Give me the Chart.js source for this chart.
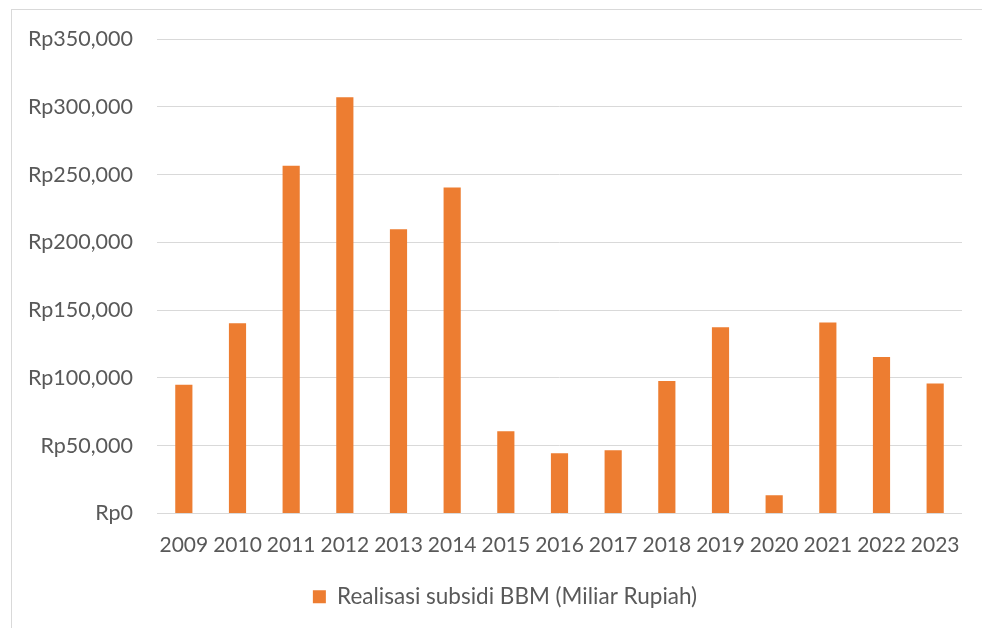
<!DOCTYPE html>
<html>
<head>
<meta charset="utf-8">
<script src="https://cdn.jsdelivr.net/npm/chart.js@4.4.1/dist/chart.umd.min.js"></script>
<style>
  html, body { margin: 0; padding: 0; background: #fff; overflow: hidden; }
  #frame { position: absolute; left: 11px; top: 9px; width: 1000px; height: 700px;
           border-left: 1px solid #d9d9d9; border-top: 1px solid #d9d9d9; }
  #chart { position: absolute; left: 0; top: 0; }
</style>
</head>
<body>
<div id="frame"></div>
<canvas id="chart" width="982" height="628"></canvas>
<script>
const years = ['2009', '2010', '2011', '2012', '2013', '2014', '2015', '2016',
  '2017', '2018', '2019', '2020', '2021', '2022', '2023'];
const subsidi = [94900, 140400, 256500, 307000, 209600, 240500, 60700, 44400,
  46700, 97800, 137400, 13500, 140900, 115400, 95800];
const seriesLabel = 'Realisasi subsidi BBM (Miliar Rupiah)';

const fontFamily = 'Lato, "Noto Sans", sans-serif';
const textColor = '#595959';
const gridColor = '#d9d9d9';
const barColor = '#ed7d31';

function formatRp(v) {
  return 'Rp' + v.toLocaleString('en-US');
}

// the legend in the original sits a bit right of the canvas centre
const legendShift = {
  id: 'legendShift',
  afterLayout(chart) {
    chart.legend.left += 24;
    chart.legend.right += 24;
  }
};

const ctx = document.getElementById('chart').getContext('2d');

new Chart(ctx, {
  type: 'bar',
  data: {
    labels: years,
    datasets: [{
      label: seriesLabel,
      data: subsidi,
      backgroundColor: barColor,
      borderWidth: 0,
      categoryPercentage: 1,
      barPercentage: 0.32
    }]
  },
  options: {
    responsive: false,
    animation: false,
    layout: { padding: { top: 39, right: 20, bottom: 10, left: 0 } },
    plugins: {
      tooltip: { enabled: false },
      legend: {
        position: 'bottom',
        labels: {
          color: textColor,
          font: { family: fontFamily, size: 22.5 },
          boxWidth: 13,
          boxHeight: 13,
          padding: 10
        }
      }
    },
    scales: {
      x: {
        grid: { display: false, drawTicks: false },
        border: { display: false },
        ticks: {
          color: textColor,
          font: { family: fontFamily, size: 21 },
          padding: 19,
          maxRotation: 0,
          autoSkip: false
        },
        afterFit: scale => { scale.height = 62; }
      },
      y: {
        min: 0,
        max: 350000,
        grid: { color: gridColor, lineWidth: 1, drawTicks: false },
        border: { display: false },
        ticks: {
          stepSize: 50000,
          color: textColor,
          font: { family: fontFamily, size: 21.5 },
          padding: 24,
          callback: v => formatRp(v)
        },
        afterFit: scale => { scale.width = 157; }
      }
    }
  },
  plugins: [legendShift]
});
</script>
</body>
</html>
